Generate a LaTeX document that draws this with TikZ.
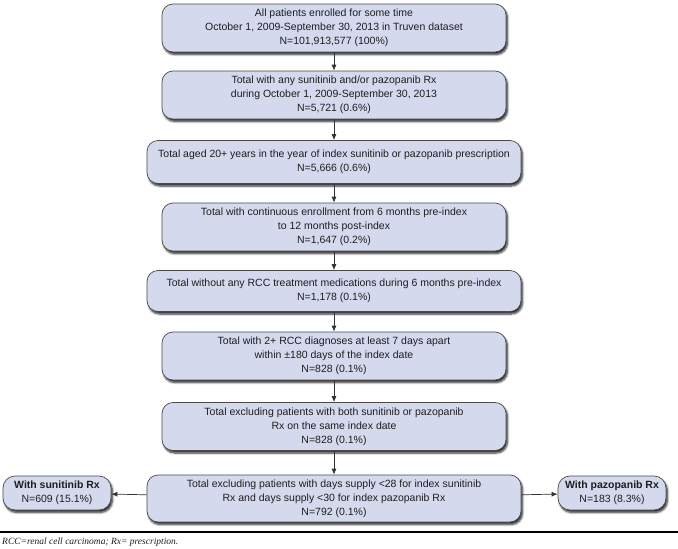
\documentclass[tikz,border=0pt]{standalone}
\usepackage{fontspec}
\setmainfont{Liberation Sans}
\newfontfamily\notefont{Liberation Serif}
\usetikzlibrary{arrows.meta,shadows,shadows.blur}
\definecolor{boxfill}{HTML}{D4D9EE}
\definecolor{boxline}{HTML}{4A4A4A}
\definecolor{arrowc}{HTML}{333333}
\definecolor{txt}{HTML}{1E1E1E}
\begin{document}
\begin{tikzpicture}[x=1pt,y=-1pt,
  flowbox/.style={draw=boxline, line width=0.7pt, fill=boxfill, rounded corners=11pt,
    align=center, inner sep=0pt, text=txt, font=\fontsize{10.5}{14}\selectfont,
    blur shadow={shadow xshift=1.5pt, shadow yshift=-2.5pt, shadow blur radius=2pt, shadow blur steps=6, shadow opacity=85}},
  narrowbox/.style={flowbox, minimum width=344pt, minimum height=48pt},
  widebox/.style={flowbox, minimum width=374pt},
  sidebox/.style={flowbox, minimum width=108pt, minimum height=34pt, rounded corners=12pt},
  arr/.style={draw=arrowc, line width=0.7pt, -{Latex[length=6pt,width=5pt]}}]
\useasboundingbox (0,0) rectangle (678,549);

\node[narrowbox] (b1) at (334,28) {All patients enrolled for some time\\October 1, 2009-September 30, 2013 in Truven dataset\\N=101,913,577 (100\%)};
\node[narrowbox] (b2) at (334,95) {Total with any sunitinib and/or pazopanib Rx\\during October 1, 2009-September 30, 2013\\N=5,721 (0.6\%)};
\node[widebox, minimum height=43pt] (b3) at (334,162) {Total aged 20+ years in the year of index sunitinib or pazopanib prescription\\N=5,666 (0.6\%)};
\node[narrowbox] (b4) at (334,227) {Total with continuous enrollment from 6 months pre-index\\to 12 months post-index\\N=1,647 (0.2\%)};
\node[widebox, minimum height=41pt] (b5) at (334,291) {Total without any RCC treatment medications during 6 months pre-index\\N=1,178 (0.1\%)};
\node[narrowbox] (b6) at (334,356) {Total with 2+ RCC diagnoses at least 7 days apart\\within ±180 days of the index date\\N=828 (0.1\%)};
\node[narrowbox] (b7) at (334,426.5) {Total excluding patients with both sunitinib or pazopanib\\Rx on the same index date\\N=828 (0.1\%)};
\node[widebox, minimum height=47pt] (b8) at (334,498.5) {Total excluding patients with days supply <28 for index sunitinib\\Rx and days supply <30 for index pazopanib Rx\\N=792 (0.1\%)};
\node[sidebox] (sl) at (57,493) {\textbf{With sunitinib Rx}\\N=609 (15.1\%)};
\node[sidebox] (sr) at (612,493) {\textbf{With pazopanib Rx}\\N=183 (8.3\%)};

\draw[arr] (b1) -- (b2);
\draw[arr] (b2) -- (b3);
\draw[arr] (b3) -- (b4);
\draw[arr] (b4) -- (b5);
\draw[arr] (b5) -- (b6);
\draw[arr] (b6) -- (b7);
\draw[arr] (b7) -- (b8);
\draw[arr] (b8) -- (sl);
\draw[arr] (b8) -- (sr);

\coordinate (rl) at (0,532);
\coordinate (rr) at (678,532);
\draw[line width=1.1pt, black] (rl) -- (rr);
\node[anchor=west, inner sep=0pt, font=\notefont\itshape\fontsize{9.5}{11}\selectfont, text=txt] (fn) at (2,542) {RCC=renal cell carcinoma; Rx= prescription.};
\end{tikzpicture}
\end{document}
